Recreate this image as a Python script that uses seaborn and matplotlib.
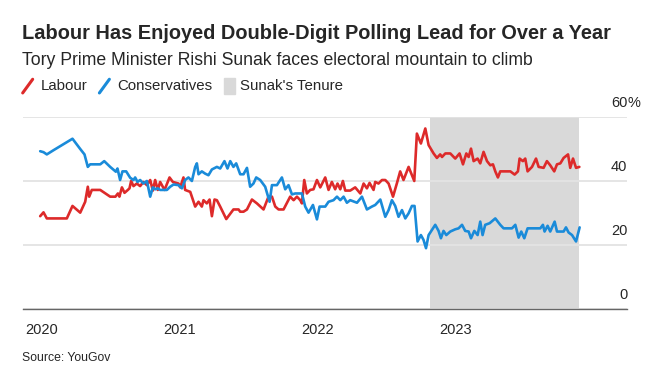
import pandas as pd
import numpy as np
import matplotlib.pyplot as plt
import seaborn as sns
from matplotlib.lines import Line2D
from matplotlib.patches import Rectangle

# poll dates as decimal years, values in %
lab_year = [2019.993, 2020.017, 2020.041, 2020.186, 2020.227, 2020.283, 2020.319, 2020.338, 2020.348, 2020.367,
            2020.428, 2020.500, 2020.538, 2020.556, 2020.567, 2020.585, 2020.604, 2020.628, 2020.640, 2020.652,
            2020.669, 2020.693, 2020.717, 2020.741, 2020.766, 2020.790, 2020.809, 2020.826, 2020.845, 2020.862,
            2020.894, 2020.930, 2020.954, 2020.978, 2020.995, 2021.007, 2021.031, 2021.043, 2021.080, 2021.116,
            2021.140, 2021.164, 2021.176, 2021.200, 2021.220, 2021.237, 2021.256, 2021.273, 2021.297, 2021.341,
            2021.393, 2021.430, 2021.442, 2021.466, 2021.491, 2021.527, 2021.563, 2021.611, 2021.647, 2021.672,
            2021.696, 2021.720, 2021.756, 2021.804, 2021.829, 2021.853, 2021.877, 2021.889, 2021.906, 2021.925,
            2021.949, 2021.973, 2021.998, 2022.022, 2022.058, 2022.082, 2022.106, 2022.130, 2022.147, 2022.167,
            2022.186, 2022.203, 2022.239, 2022.275, 2022.312, 2022.336, 2022.360, 2022.379, 2022.408, 2022.420,
            2022.444, 2022.469, 2022.493, 2022.517, 2022.549, 2022.578, 2022.601, 2022.625, 2022.662, 2022.703,
            2022.722, 2022.751, 2022.783, 2022.807, 2022.843, 2022.867, 2022.891, 2022.904, 2022.928, 2022.964,
            2023.000, 2023.031, 2023.056, 2023.080, 2023.097, 2023.114, 2023.133, 2023.162, 2023.181, 2023.205,
            2023.230, 2023.254, 2023.273, 2023.290, 2023.309, 2023.326, 2023.399, 2023.430, 2023.454, 2023.466,
            2023.490, 2023.507, 2023.524, 2023.556, 2023.585, 2023.604, 2023.640, 2023.664, 2023.688, 2023.717,
            2023.737, 2023.761, 2023.785, 2023.817, 2023.833, 2023.853, 2023.875, 2023.899]
lab_val = [29.0, 30.2, 28.3, 28.3, 32.2, 30.1, 33.5, 38.2, 35.1, 37.2,
           37.2, 35.1, 35.1, 36.1, 35.1, 38.0, 36.3, 37.2, 37.7, 40.0,
           38.4, 39.2, 38.4, 39.7, 38.7, 40.3, 37.0, 40.3, 37.2, 39.7,
           37.2, 41.1, 39.7, 39.4, 39.2, 38.0, 41.1, 37.2, 36.6, 32.0,
           33.5, 32.0, 34.0, 33.0, 34.2, 29.0, 34.2, 34.0, 32.0, 28.1,
           31.1, 31.1, 30.4, 30.4, 31.1, 34.2, 33.0, 31.1, 35.1, 35.1,
           32.0, 31.1, 31.1, 35.1, 34.0, 35.1, 34.0, 33.0, 40.3, 36.1,
           37.2, 37.4, 40.3, 38.0, 41.1, 37.2, 39.7, 37.4, 39.2, 37.4,
           40.0, 37.0, 37.0, 38.0, 36.1, 39.2, 37.7, 39.4, 37.2, 39.7,
           39.2, 40.3, 40.3, 39.2, 35.1, 39.4, 43.0, 40.3, 44.4, 40.0,
           54.8, 51.7, 56.4, 51.2, 48.6, 47.2, 48.3, 47.5, 48.6, 48.6,
           47.0, 48.6, 45.2, 48.6, 47.5, 50.1, 46.2, 47.0, 45.5, 49.1,
           46.2, 44.9, 45.2, 43.0, 41.1, 43.0, 43.0, 42.0, 43.0, 47.0,
           46.2, 47.0, 43.0, 44.4, 47.0, 44.4, 44.1, 46.2, 44.9, 43.0,
           45.2, 45.5, 47.2, 48.3, 44.1, 47.0, 44.1, 44.4]

con_year = [2019.993, 2020.017, 2020.041, 2020.089, 2020.227, 2020.283, 2020.314, 2020.338, 2020.355, 2020.428,
            2020.457, 2020.500, 2020.541, 2020.553, 2020.572, 2020.589, 2020.616, 2020.645, 2020.669, 2020.681,
            2020.698, 2020.717, 2020.741, 2020.766, 2020.790, 2020.809, 2020.826, 2020.845, 2020.862, 2020.911,
            2020.935, 2020.959, 2020.995, 2021.020, 2021.043, 2021.067, 2021.092, 2021.116, 2021.128, 2021.140,
            2021.164, 2021.188, 2021.212, 2021.237, 2021.273, 2021.297, 2021.328, 2021.350, 2021.370, 2021.393,
            2021.413, 2021.442, 2021.466, 2021.491, 2021.514, 2021.538, 2021.558, 2021.587, 2021.623, 2021.655,
            2021.672, 2021.708, 2021.744, 2021.768, 2021.792, 2021.817, 2021.841, 2021.889, 2021.913, 2021.937,
            2021.969, 2021.998, 2022.017, 2022.058, 2022.082, 2022.118, 2022.143, 2022.167, 2022.191, 2022.215,
            2022.239, 2022.288, 2022.324, 2022.360, 2022.396, 2022.420, 2022.457, 2022.493, 2022.517, 2022.541,
            2022.565, 2022.589, 2022.614, 2022.638, 2022.662, 2022.686, 2022.705, 2022.727, 2022.751, 2022.770,
            2022.788, 2022.807, 2022.855, 2022.879, 2022.896, 2022.915, 2022.935, 2022.964, 2023.000, 2023.024,
            2023.049, 2023.072, 2023.097, 2023.114, 2023.138, 2023.162, 2023.181, 2023.198, 2023.217, 2023.249,
            2023.290, 2023.326, 2023.350, 2023.411, 2023.435, 2023.459, 2023.478, 2023.500, 2023.524, 2023.616,
            2023.635, 2023.647, 2023.669, 2023.688, 2023.720, 2023.737, 2023.785, 2023.802, 2023.821, 2023.846,
            2023.875, 2023.901]
con_val = [49.3, 49.0, 48.3, 49.6, 53.2, 50.0, 48.3, 44.4, 45.2, 45.2,
           46.2, 44.4, 42.9, 43.9, 40.3, 43.0, 43.0, 41.0, 40.3, 41.1,
           39.7, 40.3, 39.2, 40.0, 35.1, 38.0, 37.4, 37.7, 37.2, 37.2,
           38.2, 38.9, 38.7, 37.7, 40.3, 41.1, 40.0, 44.4, 45.5, 42.1,
           43.0, 42.3, 41.8, 43.6, 44.4, 43.9, 46.2, 43.9, 46.2, 44.4,
           45.5, 42.1, 42.1, 44.1, 38.2, 39.2, 41.1, 40.3, 38.2, 33.5,
           38.7, 38.7, 41.1, 37.4, 38.7, 35.8, 36.1, 36.1, 32.0, 30.1,
           32.5, 28.0, 32.0, 32.0, 33.5, 34.0, 35.1, 34.0, 35.1, 33.2,
           34.0, 33.2, 35.1, 31.1, 32.0, 32.5, 34.2, 28.8, 30.9, 34.0,
           32.2, 28.8, 30.9, 28.3, 29.9, 32.2, 32.2, 21.1, 23.1, 21.6,
           19.0, 23.1, 26.3, 24.4, 22.1, 24.4, 23.1, 24.2, 24.9, 25.2,
           26.3, 24.4, 24.2, 22.1, 24.4, 23.1, 27.3, 23.1, 26.3, 26.8,
           28.3, 26.3, 25.2, 25.2, 26.3, 22.3, 24.2, 22.1, 25.2, 25.2,
           26.3, 24.2, 26.0, 24.2, 27.3, 24.2, 24.2, 25.5, 23.9, 23.1,
           21.1, 25.5]

tenure_start = '2022-10-25'
tenure_end = '2023-11-24'
years = ['2020', '2021', '2022', '2023']
y_ticks = [0, 20, 40, 60]

RED = '#dd2a2a'
BLUE = '#1a8bd9'
SHADE = '#d9d9d9'


def to_date(yr):
    yr = np.asarray(yr)
    return pd.Timestamp('2020-01-01') + pd.to_timedelta((yr - 2020) * 365.25, unit='D')


df = pd.concat([
    pd.DataFrame({'date': to_date(lab_year), 'share': lab_val, 'party': 'Labour'}),
    pd.DataFrame({'date': to_date(con_year), 'share': con_val, 'party': 'Conservatives'}),
])

sns.set_style('white')
plt.rcParams['font.family'] = ['Liberation Sans', 'DejaVu Sans']

fig = plt.figure(figsize=(6.67, 3.81), dpi=100)
ax = fig.add_axes([0.0345, 0.189, 0.906, 0.504])

ax.axvspan(pd.Timestamp(tenure_start), pd.Timestamp(tenure_end), color=SHADE, lw=0, zorder=0)
for v in y_ticks:
    ax.axhline(v, color='#e3e3e3', lw=1.3, zorder=0.5)

sns.lineplot(data=df, x='date', y='share', hue='party', palette={'Labour': RED, 'Conservatives': BLUE},
             estimator=None, sort=False, lw=1.9, legend=False, ax=ax, zorder=3)

ax.set_xlim(pd.Timestamp('2019-11-14'), pd.Timestamp('2024-03-31'))
ax.set_ylim(0, 60)
ax.set_xticks([pd.Timestamp(y + '-01-01') for y in years])
ax.set_xticklabels(years, fontsize=10.5)
ax.set_yticks([])
ax.set_xlabel('')
ax.set_ylabel('')
ax.tick_params(axis='x', length=5, width=1, color='#666666', pad=5)
sns.despine(ax=ax, left=True, right=True, top=True)
ax.spines['bottom'].set_color('#666666')
ax.spines['bottom'].set_linewidth(1)

for v in y_ticks:
    ax.annotate(str(v), xy=(1.0, v), xycoords=('axes fraction', 'data'), xytext=(0, 5),
                textcoords='offset points', ha='right', va='bottom', fontsize=10.5, clip_on=False)
ax.annotate('%', xy=(1.0, 60), xycoords=('axes fraction', 'data'), xytext=(0, 5),
            textcoords='offset points', ha='left', va='bottom', fontsize=10.5, annotation_clip=False)

fig.text(0.033, 0.912, 'Labour Has Enjoyed Double-Digit Polling Lead for Over a Year',
         fontsize=14.4, fontweight='bold', va='center')
fig.text(0.033, 0.84, 'Tory Prime Minister Rishi Sunak faces electoral mountain to climb',
         fontsize=12.7, va='center')

# legend row
ly = 0.774
fig.add_artist(Line2D([0.034, 0.049], [ly - 0.018, ly + 0.018], color=RED, lw=2.2))
fig.text(0.061, ly, 'Labour', fontsize=10.8, va='center')
fig.add_artist(Line2D([0.149, 0.164], [ly - 0.018, ly + 0.018], color=BLUE, lw=2.2))
fig.text(0.176, ly, 'Conservatives', fontsize=10.8, va='center')
fig.add_artist(Rectangle((0.336, ly - 0.02), 0.017, 0.04, color=SHADE, transform=fig.transFigure))
fig.text(0.36, ly, "Sunak's Tenure", fontsize=10.8, va='center')

fig.text(0.033, 0.06, 'Source: YouGov', fontsize=8.8, va='center')

fig.savefig('out.png', dpi=100)
